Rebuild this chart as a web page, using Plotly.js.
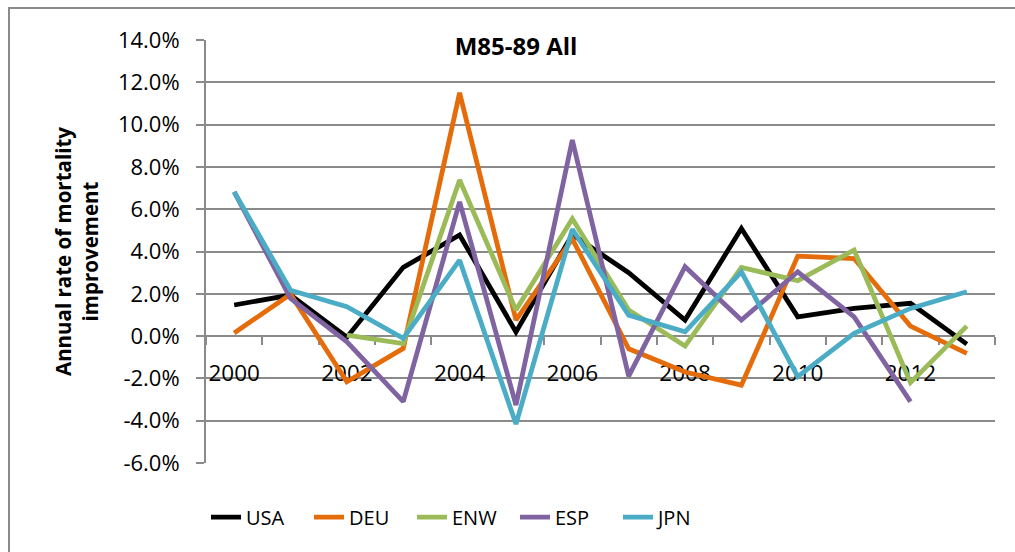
<!DOCTYPE html>
<html>
<head>
<meta charset="utf-8">
<script src="https://cdn.plot.ly/plotly-3.0.1.min.js"></script>
<style>
  html, body { margin: 0; padding: 0; background: #fff; }
  #wrap { position: relative; width: 1015px; height: 552px; overflow: hidden; }
  #chart { width: 1015px; height: 552px; }
  #frame { position: absolute; left: 8px; top: 7px; width: 1100px; height: 700px;
           border-top: 2px solid #8a8a8a; border-left: 2px solid #8a8a8a; pointer-events: none; }
</style>
</head>
<body>
<div id="wrap">
  <div id="chart"></div>
  <div id="frame"></div>
</div>
<script>
// Data (annual rate of mortality improvement, %)
const years = [2000, 2001, 2002, 2003, 2004, 2005, 2006, 2007, 2008, 2009, 2010, 2011, 2012, 2013];
const usa = [1.47, 1.94, -0.05, 3.25, 4.78, 0.20, 4.80, 3.00, 0.76, 5.09, 0.91, 1.31, 1.55, -0.38];
const deu = [0.15, 1.98, -2.16, -0.58, 11.50, 0.76, 4.60, -0.60, -1.70, -2.32, 3.78, 3.67, 0.47, -0.82];
const enw = [null, null, 0.05, -0.35, 7.38, 1.23, 5.55, 1.23, -0.47, 3.25, 2.62, 4.07, -2.20, 0.47];
const esp = [6.82, 1.78, -0.27, -3.10, 6.35, -3.26, 9.27, -1.89, 3.28, 0.76, 3.04, 0.91, -3.10, null];
const jpn = [6.82, 2.17, 1.39, -0.11, 3.59, -4.16, 5.05, 0.99, 0.20, 3.04, -1.92, 0.13, 1.31, 2.10];
const seriesNames = ['USA', 'DEU', 'ENW', 'ESP', 'JPN'];
const seriesValues = [usa, deu, enw, esp, jpn];
const seriesColors = ['#000000', '#E46C0A', '#9BBB59', '#8064A2', '#4BACC6'];
const xTickLabels = [2000, 2002, 2004, 2006, 2008, 2010, 2012];
const yTickValues = [-6, -4, -2, 0, 2, 4, 6, 8, 10, 12, 14];
const chartTitle = 'M85-89 All';
const yTitle = 'Annual rate of mortality<br>improvement';

const yRange = [-6, 14];
const FONT = 'Open Sans, Noto Sans, sans-serif';

const traces = seriesNames.map((n, i) => ({
  type: 'scatter',
  mode: 'lines',
  name: n,
  x: years,
  y: seriesValues[i],
  line: { color: seriesColors[i], width: 4.8 },
  connectgaps: false,
  hoverinfo: 'x+y+name'
}));

const layout = {
  width: 1015,
  height: 552,
  margin: { l: 206, r: 20, t: 40, b: 89 },
  paper_bgcolor: '#ffffff',
  plot_bgcolor: '#ffffff',
  font: { family: FONT, color: '#000000' },
  title: {
    text: '<b>' + chartTitle + '</b>',
    font: { family: FONT, size: 24, color: '#000000' },
    xref: 'paper', x: 0.393, xanchor: 'center',
    yref: 'container', y: 1 - 47 / 552, yanchor: 'middle'
  },
  xaxis: {
    type: 'linear',
    range: [years[0] - 0.5, years[years.length - 1] + 0.5],
    anchor: 'free',
    position: (0 - yRange[0]) / (yRange[1] - yRange[0]),
    showgrid: false,
    zeroline: false,
    showline: true,
    linecolor: '#8a8a8a',
    linewidth: 2,
    tickmode: 'array',
    tickvals: xTickLabels,
    ticktext: xTickLabels.map(String),
    ticks: '',
    ticklabelstandoff: 17,
    tickfont: { family: FONT, size: 22.5, color: '#000000' },
    minor: {
      tickmode: 'linear',
      tick0: years[0] - 0.5,
      dtick: 1,
      ticks: 'outside',
      ticklen: 8,
      tickwidth: 2,
      tickcolor: '#8a8a8a',
      showgrid: false
    },
    layer: 'below traces',
    fixedrange: true
  },
  yaxis: {
    range: yRange,
    tickmode: 'array',
    tickvals: yTickValues,
    ticktext: yTickValues.map(v => v.toFixed(1) + '%'),
    showgrid: true,
    gridcolor: '#8a8a8a',
    gridwidth: 2,
    zeroline: false,
    showline: true,
    linecolor: '#8a8a8a',
    linewidth: 2,
    ticks: 'outside',
    ticklen: 8,
    tickwidth: 2,
    tickcolor: '#8a8a8a',
    ticklabelstandoff: 12,
    tickfont: { family: FONT, size: 22, color: '#000000' },
    title: {
      text: '<b>' + yTitle + '</b>',
      font: { family: FONT, size: 20.5, color: '#000000' },
      standoff: 14
    },
    layer: 'below traces',
    fixedrange: true
  },
  showlegend: true,
  legend: {
    orientation: 'h',
    x: 0, xanchor: 'left',
    y: -0.128, yanchor: 'middle',
    font: { family: FONT, size: 20, color: '#000000' },
    entrywidth: 58,
    entrywidthmode: 'pixels',
    bgcolor: 'rgba(0,0,0,0)',
    itemclick: false, itemdoubleclick: false
  },
  hovermode: 'closest'
};

Plotly.newPlot('chart', traces, layout, { displayModeBar: false, staticPlot: false, responsive: false });
</script>
</body>
</html>
